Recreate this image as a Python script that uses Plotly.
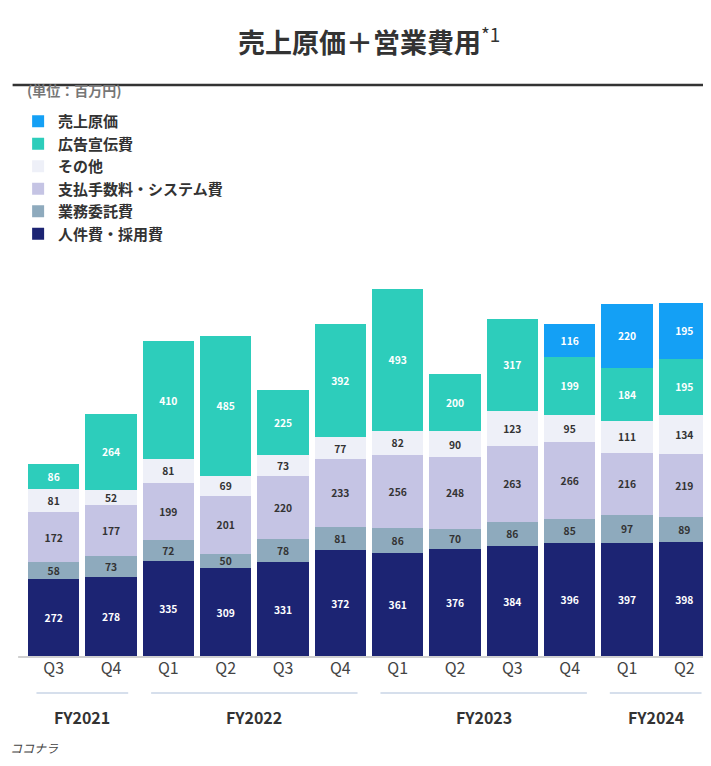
import plotly.graph_objects as go

quarters = ["Q3", "Q4", "Q1", "Q2", "Q3", "Q4", "Q1", "Q2", "Q3", "Q4", "Q1", "Q2"]
jinkenhi = [272, 278, 335, 309, 331, 372, 361, 376, 384, 396, 397, 398]
gyomu = [58, 73, 72, 50, 78, 81, 86, 70, 86, 85, 97, 89]
shiharai = [172, 177, 199, 201, 220, 233, 256, 248, 263, 266, 216, 219]
sonota = [81, 52, 81, 69, 73, 77, 82, 90, 123, 95, 111, 134]
kokoku = [86, 264, 410, 485, 225, 392, 493, 200, 317, 199, 184, 195]
genka = [None, None, None, None, None, None, None, None, None, 116, 220, 195]
fy_names = ["FY2021", "FY2022", "FY2023", "FY2024"]
fy_spans = [(0, 1), (2, 5), (6, 9), (10, 11)]

series = [
    ("人件費・採用費", jinkenhi, "#1c2473", "white"),
    ("業務委託費", gyomu, "#8eaabd", "#333333"),
    ("支払手数料・システム費", shiharai, "#c5c4e4", "#333333"),
    ("その他", sonota, "#eef0f8", "#333333"),
    ("広告宣伝費", kokoku, "#2dcdbb", "white"),
    ("売上原価", genka, "#14a0f5", "white"),
]

x = list(range(len(quarters)))
fig = go.Figure()
for i, (name, vals, color, tcolor) in enumerate(series):
    fig.add_bar(
        x=x, y=vals, name=name, marker_color=color, marker_line_width=0,
        text=[("" if v is None else str(v)) for v in vals],
        textposition="inside", insidetextanchor="middle", textangle=0,
        textfont=dict(color=tcolor, size=14, family="Noto Sans CJK JP", weight="bold"),
        legendgroup=str(i),
    )

H = 368.0
def py(p):
    return (649 - p) / H

shapes = [
    dict(type="line", xref="paper", yref="paper", x0=-0.01, x1=1, y0=py(649), y1=py(649),
         line=dict(color="#d0d0d0", width=2)),
    dict(type="line", xref="paper", yref="paper", x0=-0.018, x1=1, y0=py(77), y1=py(77),
         line=dict(color="#333333", width=2.5)),
]
annotations = [
    dict(text="<b>売上原価＋営業費用</b><sup>*1</sup>", xref="paper", yref="paper", x=0.5, y=py(32),
         yanchor="middle", showarrow=False,
         font=dict(size=27, color="#333333", family="Noto Sans CJK JP")),
    dict(text="<b>(単位：百万円)</b>", xref="paper", yref="paper", x=0.0, xanchor="left", y=py(82),
         yanchor="middle", showarrow=False,
         font=dict(size=14, color="#777777", family="Noto Sans CJK JP")),
    dict(text="<i>ココナラ</i>", xref="paper", yref="paper", x=-0.025, xanchor="left", y=py(739),
         yanchor="middle", showarrow=False,
         font=dict(size=12, color="#444444", family="Noto Sans CJK JP")),
]
for name, (a, b) in zip(fy_names, fy_spans):
    shapes.append(dict(type="line", xref="x", yref="paper", x0=a - 0.3, x1=b + 0.3,
                       y0=py(685), y1=py(685), line=dict(color="#c8d4e6", width=1.5)))
    annotations.append(dict(text="<b>" + name + "</b>", xref="x", yref="paper", x=(a + b) / 2,
                            y=py(709), yanchor="middle", showarrow=False,
                            font=dict(size=16, color="#333333", family="Noto Sans CJK JP")))

fig.update_layout(
    barmode="stack", bargap=0.1,
    width=711, height=766,
    margin=dict(l=17, r=6, t=281, b=117, autoexpand=False),
    plot_bgcolor="white", paper_bgcolor="white",
    font=dict(family="Noto Sans CJK JP", color="#333333"),
    xaxis=dict(tickvals=x, ticktext=quarters, range=[-0.5, 11.5], showgrid=False,
               tickfont=dict(size=16, color="#444444"), ticks="", showline=False),
    yaxis=dict(range=[0, 1278], visible=False),
    legend=dict(traceorder="reversed", x=-0.01, xanchor="left", yref="container",
                y=1 - 97 / 766, yanchor="top",
                font=dict(size=15, color="#333333", weight="bold"), tracegroupgap=12,
                itemwidth=30),
    uniformtext=dict(minsize=10, mode="show"),
    shapes=shapes, annotations=annotations,
    showlegend=True,
)
fig.write_html("out.html")
